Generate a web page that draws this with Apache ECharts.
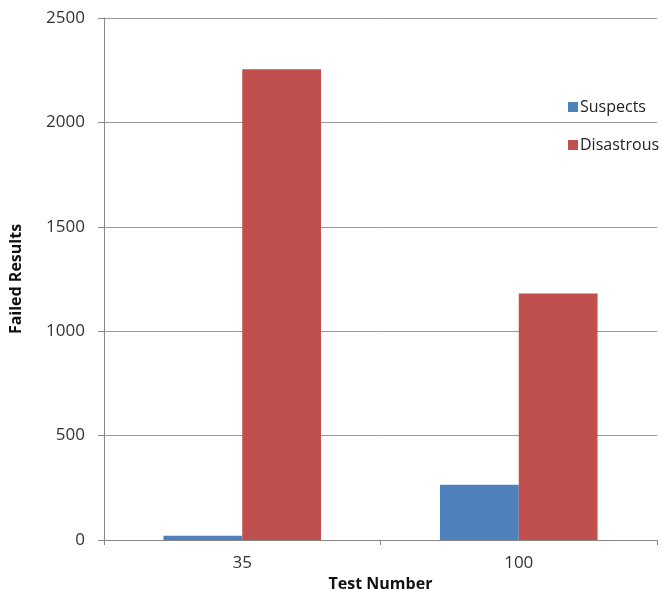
<!DOCTYPE html>
<html><head><meta charset="utf-8">
<script src="https://cdn.jsdelivr.net/npm/echarts@6/dist/echarts.min.js"></script>
<style>html,body{margin:0;padding:0;background:#fff}#c{width:663px;height:589px}</style>
</head><body><div id="c"></div>
<script>
const categories = ['35', '100'];
const suspects = [20, 265];
const disastrous = [2255, 1180];
const yTicks = [0, 500, 1000, 1500, 2000, 2500];

const chart = echarts.init(document.getElementById('c'), null, {renderer: 'canvas'});
const font = '"Open Sans", Lato, sans-serif';
chart.setOption({
  animation: false,
  backgroundColor: '#fff',
  grid: {left: 104, right: 6, top: 18, bottom: 49, containLabel: false, outerBoundsMode: 'none'},
  legend: {
    orient: 'vertical', left: 563, top: 94, itemGap: 22,
    itemWidth: 10, itemHeight: 10, icon: 'rect',
    textStyle: {fontFamily: font, fontSize: 16, color: '#222', padding: [0, 0, 0, -3]},
    data: ['Suspects', 'Disastrous']
  },
  xAxis: {
    type: 'category', data: categories,
    name: 'Test Number', nameLocation: 'middle', nameGap: 33,
    nameTextStyle: {fontFamily: font, fontSize: 16, fontWeight: 'bold', color: '#111'},
    axisLine: {lineStyle: {color: '#888'}},
    axisTick: {show: true, alignWithLabel: false, length: 5, lineStyle: {color: '#888'}},
    axisLabel: {fontFamily: font, fontSize: 17, color: '#333', margin: 15}
  },
  yAxis: {
    type: 'value', min: 0, max: 2500, interval: 500,
    name: 'Failed Results', nameLocation: 'middle', nameGap: 80,
    nameTextStyle: {fontFamily: font, fontSize: 16, fontWeight: 'bold', color: '#111'},
    axisLine: {show: true, lineStyle: {color: '#888'}},
    axisTick: {show: true, length: 6, lineStyle: {color: '#888'}},
    axisLabel: {fontFamily: font, fontSize: 17, color: '#333', margin: 19,
      formatter: v => yTicks.includes(v) ? String(v) : ''},
    splitLine: {lineStyle: {color: '#9a9a9a'}}
  },
  series: [
    {name: 'Suspects', type: 'bar', data: suspects, barGap: '0%', barCategoryGap: '43%',
     itemStyle: {color: '#4F81BD'}},
    {name: 'Disastrous', type: 'bar', data: disastrous, barGap: '0%', barCategoryGap: '43%',
     itemStyle: {color: '#C0504D'}}
  ]
});
</script></body></html>
